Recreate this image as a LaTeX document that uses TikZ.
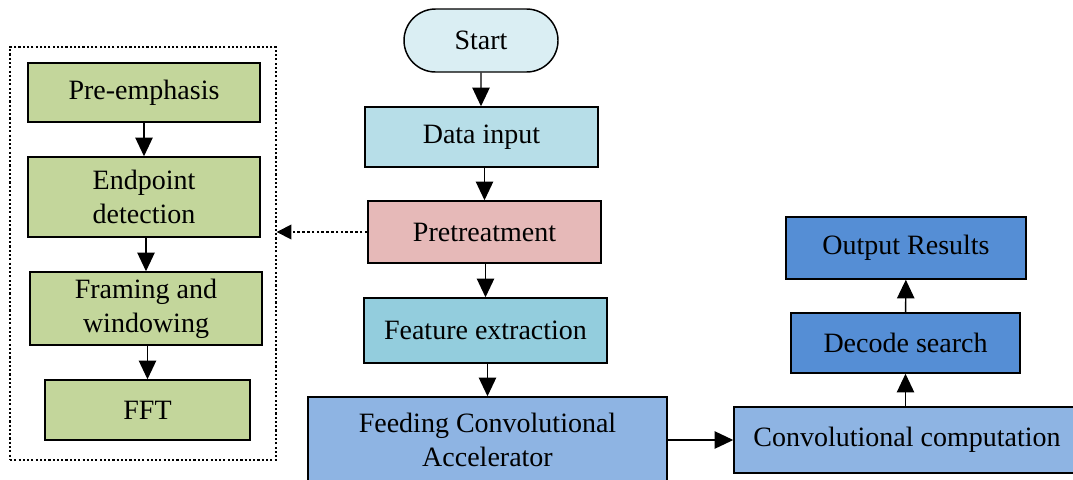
\documentclass[tikz,border=0pt]{standalone}
\usepackage{fontspec}
\setmainfont{Liberation Serif}
\usetikzlibrary{arrows.meta,shapes.misc}
\definecolor{startcol}{HTML}{DAEEF3}
\definecolor{inputcol}{HTML}{B7DEE8}
\definecolor{pretcol}{HTML}{E6B9B8}
\definecolor{featcol}{HTML}{93CDDD}
\definecolor{convcol}{HTML}{8EB4E3}
\definecolor{outcol}{HTML}{558ED5}
\definecolor{stepcol}{HTML}{C3D69B}

\begin{document}
\begin{tikzpicture}[x=0.75pt, y=-0.75pt, >={Triangle[length=14pt,width=13pt]},
  font=\fontsize{21}{25.5}\selectfont,
  blk/.style={draw, line width=1.1pt, inner sep=0pt, align=center},
  flow/.style={->, line width=1.1pt}]
  \useasboundingbox (0,0) rectangle (1073,479);
  \clip (0,0) rectangle (1073,479);
  % pretreatment steps, left
  \node[blk, dash pattern=on 1.6pt off 1.6pt, line width=1pt,
        minimum width=199.5pt, minimum height=309.75pt] (group) at (143,253.5) {};
  \node[blk, fill=stepcol, minimum width=174pt, minimum height=44.25pt] (preemph) at (144,92.5) {Pre-emphasis};
  \node[blk, fill=stepcol, minimum width=174pt, minimum height=60pt] (endpoint) at (144,197) {Endpoint\\detection};
  \node[blk, fill=stepcol, minimum width=174pt, minimum height=54.75pt] (framing) at (146,308.5) {Framing and\\windowing};
  \node[blk, fill=stepcol, minimum width=153.75pt, minimum height=45pt] (fft) at (147.5,410) {FFT};
  % main flow
  \node[blk, rounded rectangle, fill=startcol, minimum width=115.5pt, minimum height=47.25pt] (start) at (481,40.5) {Start};
  \node[blk, fill=inputcol, minimum width=174.75pt, minimum height=45pt] (datain) at (481.5,137) {Data input};
  \node[blk, fill=pretcol, minimum width=174.75pt, minimum height=46.5pt] (pretreat) at (484.5,232) {Pretreatment};
  \node[blk, fill=featcol, minimum width=182.25pt, minimum height=48.75pt] (feature) at (485.5,330.5) {Feature extraction};
  \node[blk, fill=convcol, minimum width=269.25pt, minimum height=64.5pt] (feeding) at (487.5,440) {Feeding Convolutional\\Accelerator};
  % accelerator side
  \node[blk, fill=convcol, minimum width=259.5pt, minimum height=49.5pt] (conv) at (907,440) {Convolutional computation};
  \node[blk, fill=outcol, minimum width=171.75pt, minimum height=45pt] (decode) at (905.5,343) {Decode search};
  \node[blk, fill=outcol, minimum width=180pt, minimum height=46.5pt] (output) at (906,248) {Output Results};

  \draw[flow] (preemph) -- (endpoint);
  \draw[flow] (endpoint.south -| framing.north) -- (framing);
  \draw[flow] (framing.south -| fft.north) -- (fft);
  \draw[flow] (start) -- (start |- datain.north);
  \draw[flow] (datain.south -| pretreat.north) -- (pretreat);
  \draw[flow] (pretreat.south -| feature.north) -- (feature);
  \draw[flow] (feature.south -| feeding.north) -- (feeding);
  \draw[flow] (feeding) -- (conv);
  \draw[flow] (decode.south |- conv.north) -- (decode.south);
  \draw[flow] (decode) -- (output);
  \draw[->, line width=1pt, dash pattern=on 2pt off 1.6pt, >={Triangle[length=11pt,width=11pt]}]
    (pretreat.west) -- (pretreat.west -| group.east);
\end{tikzpicture}
\end{document}
